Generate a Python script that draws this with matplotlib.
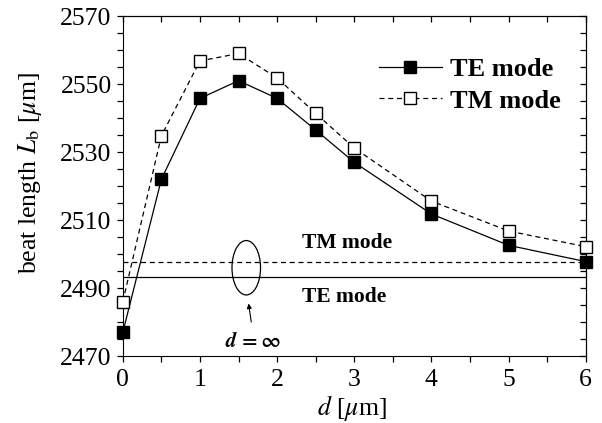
import numpy as np
import matplotlib.pyplot as plt
from matplotlib.patches import Ellipse
from matplotlib.ticker import MultipleLocator

plt.rcParams["font.family"] = ["Liberation Serif", "DejaVu Serif"]
plt.rcParams["mathtext.fontset"] = "stix"

# data
d = [0, 0.5, 1, 1.5, 2, 2.5, 3, 4, 5, 6]
lb_te = [2477, 2522, 2545.8, 2551, 2545.8, 2536.5, 2527, 2511.8, 2502.6, 2497.8]
lb_tm = [2486, 2534.8, 2556.8, 2559, 2551.8, 2541.4, 2531.2, 2515.6, 2506.8, 2502.2]
lb_inf_te = 2493.4
lb_inf_tm = 2497.8

fig = plt.figure(figsize=(6.02, 4.23), dpi=100)
ax = fig.add_axes([0.204, 0.158, 0.769, 0.804])

ax.plot(d, lb_te, "-s", color="black", lw=0.9, ms=8.5, mfc="black",
        mec="black", label="TE mode", clip_on=False, zorder=3)
ax.plot(d, lb_tm, "--s", color="black", lw=0.9, ms=8.5, mfc="white",
        mec="black", mew=1.0, label="TM mode", dashes=(4, 3),
        clip_on=False, zorder=3)

ax.plot([0, 6], [lb_inf_tm, lb_inf_tm], "--", color="black", lw=0.9, dashes=(4, 3))
ax.plot([0, 6], [lb_inf_te, lb_inf_te], "-", color="black", lw=0.9)

ax.add_patch(Ellipse((1.6, 2496), 0.37, 16, fill=False, ec="black", lw=0.9))
ax.annotate("", xy=(1.625, 2486.3), xytext=(1.67, 2479.2),
            arrowprops=dict(arrowstyle="-|>", color="black", lw=0.8,
                            mutation_scale=7))
ax.text(1.69, 2472.6, r"$\boldsymbol{d}$$\mathbf{\,=\infty}$", ha="center",
        va="baseline", fontsize=15)
ax.text(2.32, 2503.3, "TM mode", fontsize=15.5, fontweight="bold",
        ha="left", va="center")
ax.text(2.32, 2487.4, "TE mode", fontsize=15.5, fontweight="bold",
        ha="left", va="center")

ax.set_xlim(0, 6)
ax.set_ylim(2470, 2570)
ax.set_xticks(range(0, 7))
ax.set_yticks(range(2470, 2571, 20))
ax.xaxis.set_minor_locator(MultipleLocator(0.5))
ax.yaxis.set_minor_locator(MultipleLocator(5))
ax.tick_params(which="both", direction="out", length=4, width=0.9,
               labelsize=18.5, pad=4)
ax.tick_params(axis="x", pad=5)

# top / right ticks point inwards
top = ax.secondary_xaxis("top")
top.set_xticks(range(0, 7))
top.xaxis.set_minor_locator(MultipleLocator(0.5))
top.tick_params(which="both", direction="in", length=4, width=0.9,
                labeltop=False)
right = ax.secondary_yaxis("right")
right.set_yticks(range(2470, 2571, 20))
right.yaxis.set_minor_locator(MultipleLocator(5))
right.tick_params(which="both", direction="in", length=4, width=0.9,
                  labelright=False)

xl = ax.set_xlabel(r"$d$ [$\mu$m]", fontsize=18.5)
xl.set_va("baseline")
ax.xaxis.set_label_coords(0.495, -0.172)
ax.set_ylabel(r"beat length $L_{\mathrm{b}}$ [$\mu$m]", fontsize=18.5)
ax.yaxis.set_label_coords(-0.17, 0.537)

ax.legend(loc="upper left", bbox_to_anchor=(0.553, 0.878),
          frameon=False, prop={"weight": "bold", "size": 19},
          handlelength=2.4, handletextpad=0.3, labelspacing=0.31,
          borderpad=0, borderaxespad=0)

fig.savefig("out.png", dpi=100)
